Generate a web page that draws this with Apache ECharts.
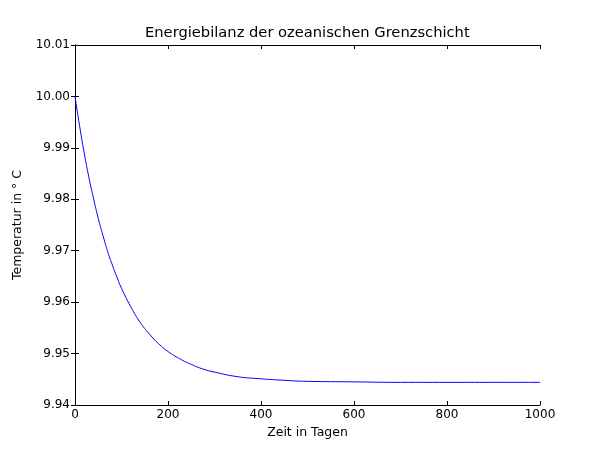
<!DOCTYPE html>
<html>
<head>
<meta charset="utf-8">
<script src="https://cdn.jsdelivr.net/npm/echarts@6/dist/echarts.min.js"></script>
<style>
  html, body { margin: 0; padding: 0; background: #fff; }
</style>
</head>
<body>
<div id="main" style="width: 600px; height: 450px"></div>
<script>
// Zeit in Tagen
const days = [0, 10, 20, 30, 40, 50, 60, 70, 80, 90, 100, 120, 140, 160, 180, 200, 225, 250, 275, 300, 350, 400, 450, 500, 600, 700, 800, 900, 1000];
// Temperatur in °C
const temps = [10.0, 9.9942, 9.9889, 9.9842, 9.9801, 9.9763, 9.9730, 9.9699, 9.9673, 9.9649, 9.9627, 9.9591, 9.9561, 9.9538, 9.9519, 9.9504, 9.9490, 9.9479, 9.9470, 9.9464, 9.9455, 9.9451, 9.9448, 9.9446, 9.9445, 9.9444, 9.9444, 9.9444, 9.9444];

const font = "DejaVu Sans";
const chart = echarts.init(document.getElementById("main"));

// Achsen im klassischen matplotlib-Stil (Ticks nach innen, Rahmen rundum)
const axisLine = { show: true, lineStyle: { color: "#000", width: 1 } };
const tickIn = { show: true, inside: true, length: 4, lineStyle: { color: "#000" } };

const option = {
  animation: false,
  title: {
    text: "Energiebilanz der ozeanischen Grenzschicht",
    left: 140,
    top: 21,
    textStyle: { fontFamily: font, fontSize: 14.7, fontWeight: "normal", color: "#000" }
  },
  grid: { left: 75, right: 60, top: 45, bottom: 45 },
  xAxis: [
    {
      type: "value",
      min: 0,
      max: 1000,
      interval: 200,
      name: "Zeit in Tagen",
      nameLocation: "middle",
      nameGap: 19,
      nameTextStyle: { fontFamily: font, fontSize: 12.5, color: "#000" },
      axisLine: axisLine,
      axisTick: tickIn,
      axisLabel: { fontFamily: font, fontSize: 12, color: "#000", margin: 4, formatter: (v) => String(v) },
      splitLine: { show: false }
    },
    {
      type: "value",
      position: "top",
      min: 0,
      max: 1000,
      interval: 200,
      axisLine: axisLine,
      axisTick: tickIn,
      axisLabel: { show: false },
      splitLine: { show: false }
    }
  ],
  yAxis: [
    {
      type: "value",
      min: 9.94,
      max: 10.01,
      interval: 0.01,
      name: "Temperatur in ° C",
      nameLocation: "middle",
      nameGap: 45,
      nameTextStyle: { fontFamily: font, fontSize: 12.5, color: "#000" },
      axisLine: axisLine,
      axisTick: tickIn,
      axisLabel: {
        fontFamily: font,
        fontSize: 12,
        color: "#000",
        margin: 5,
        formatter: (v) => v.toFixed(2)
      },
      splitLine: { show: false }
    },
    {
      type: "value",
      position: "right",
      min: 9.94,
      max: 10.01,
      interval: 0.01,
      axisLine: axisLine,
      axisTick: tickIn,
      axisLabel: { show: false },
      splitLine: { show: false }
    }
  ],
  series: [
    {
      type: "line",
      data: days.map((d, i) => [d, temps[i]]),
      smooth: true,
      showSymbol: false,
      lineStyle: { color: "#0000ff", width: 1 },
      itemStyle: { color: "#0000ff" }
    }
  ]
};

chart.setOption(option);
</script>
</body>
</html>
